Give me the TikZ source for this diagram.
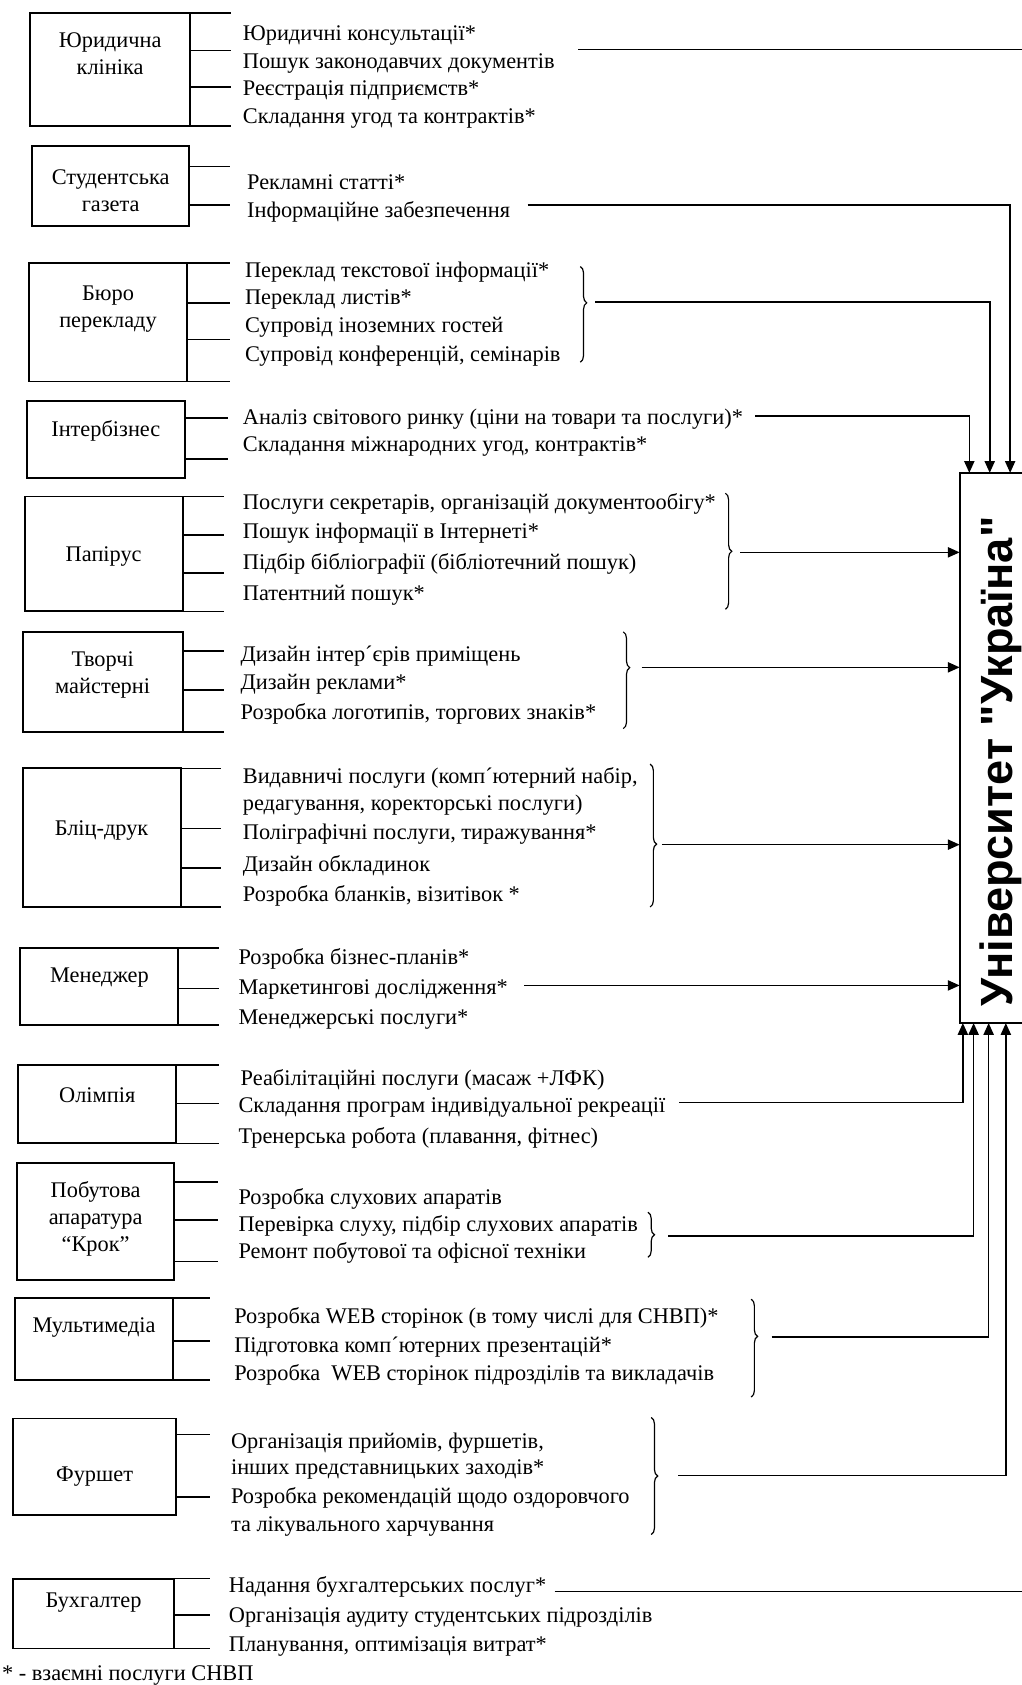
\documentclass[tikz,border=0pt]{standalone}
\usepackage{fontspec}
\setmainfont{Liberation Serif}
\newfontfamily\unifont{Liberation Sans}
\usetikzlibrary{arrows.meta,decorations.pathreplacing,calc}
\newcommand\fsz{\fontsize{20.8}{25}\selectfont}
\begin{document}
\begin{tikzpicture}[x=1pt,y=-1pt,
  every node/.style={inner sep=0pt, outer sep=0pt},
  ubox/.style={draw, line width=1.8pt, anchor=north west},
  utext/.style={align=center, font=\fsz, yshift=-2.5pt},
  item/.style={anchor=west, font=\fsz, yshift=-2.5pt},
  stub/.style={line width=1.5pt},
  conn/.style={line width=1.5pt},
  arr/.style={line width=1.5pt, -{Triangle[length=11pt,width=9.5pt]}},
  brc/.style={line width=1.1pt, decorate, decoration={brace, amplitude=6pt, aspect=#1}},
  brc/.default=0.5]
\useasboundingbox (0,0) rectangle (951,1568);
\clip (0,0) rectangle (951,1568);

% University
\node[ubox, minimum width=72, minimum height=512] (univ) at (893,440) {};
\node[rotate=90, font=\unifont\bfseries\fontsize{42}{46}\selectfont] (ut) at (931,708.5) {Університет "Україна"};

% G1
\node[ubox, minimum width=149, minimum height=105] (b1) at (28,12) {};
\node[utext] (l1) at (102.5,47.5) {Юридична\\клініка};
\draw[stub] (b1.north east) -- (215,12);
\draw[stub] (b1.east |- 0,47) -- (215,47);
\draw[stub] (b1.east |- 0,81) -- (215,81);
\draw[stub] (b1.south east) -- (215,117);
\node[item] (i1a) at (226,31) {Юридичні консультації*};
\node[item] (i1b) at (226,57) {Пошук законодавчих документів};
\node[item] (i1c) at (226,82) {Реєстрація підприємств*};
\node[item] (i1d) at (226,108) {Складання угод та контрактів*};
\coordinate (s1) at (538,46);
\coordinate (e1) at (951,46);
\draw[conn] (s1) -- (e1);

% G2
\node[ubox, minimum width=146, minimum height=74] (b2) at (30,136) {};
\node[utext] (l2) at (103,175) {Студентська\\газета};
\draw[stub] (b2.east |- 0,155) -- (214,155);
\draw[stub] (b2.east |- 0,191) -- (214,191);
\node[item] (i2a) at (230,167) {Рекламні статті*};
\node[item] (i2b) at (230,195) {Інформаційне забезпечення};
\coordinate (s2) at (491,191);
\draw[arr] (s2) -| (univ.north -| 940,0);

% G3
\node[ubox, minimum width=147, minimum height=110] (b3) at (27,245) {};
\node[utext] (l3) at (100.5,285.5) {Бюро\\перекладу};
\draw[stub] (b3.north east) -- (214,245);
\draw[stub] (b3.east |- 0,282) -- (214,282);
\draw[stub] (b3.east |- 0,316) -- (214,316);
\draw[stub] (b3.south east) -- (214,355);
\node[item] (i3a) at (228,251) {Переклад текстової інформації*};
\node[item] (i3b) at (228,276) {Переклад листів*};
\node[item] (i3c) at (228,302) {Супровід іноземних гостей};
\node[item] (i3d) at (228,329) {Супровід конференцій, семінарів};
\draw[brc=0.38] (540,248) -- (540,337);
\coordinate (s3) at (554,281);
\draw[arr] (s3) -| (univ.north -| 921,0);

% G4
\node[ubox, minimum width=147, minimum height=72] (b4) at (25,373) {};
\node[utext] (l4) at (98.5,398) {Інтербізнес};
\draw[stub] (b4.east |- 0,389) -- (212,389);
\draw[stub] (b4.east |- 0,427) -- (212,427);
\node[item] (i4a) at (226,388) {Аналіз світового ринку (ціни на товари та послуги)*};
\node[item] (i4b) at (226,413) {Складання міжнародних угод, контрактів*};
\coordinate (s4) at (703,387);
\draw[arr] (s4) -| (univ.north -| 902,0);

% G5
\node[ubox, minimum width=147, minimum height=107] (b5) at (23,462) {};
\node[utext] (l5) at (96.5,515) {Папірус};
\draw[stub] (b5.north east) -- (208,462);
\draw[stub] (b5.east |- 0,498) -- (208,498);
\draw[stub] (b5.east |- 0,533) -- (208,533);
\draw[stub] (b5.south east) -- (208,569);
\node[item] (i5a) at (226,466) {Послуги секретарів, організацій документообігу*};
\node[item] (i5b) at (226,494) {Пошук інформації в Інтернеті*};
\node[item] (i5c) at (226,522) {Підбір бібліографії (бібліотечний пошук)};
\node[item] (i5d) at (226,551) {Патентний пошук*};
\draw[brc=0.5] (675,459) -- (675,567);
\coordinate (s5) at (689,514);
\draw[arr] (s5) -- (s5 -| univ.west);

% G6
\node[ubox, minimum width=149, minimum height=93] (b6) at (21,588) {};
\node[utext] (l6) at (95.5,626) {Творчі\\майстерні};
\draw[stub] (b6.east |- 0,606) -- (208,606);
\draw[stub] (b6.east |- 0,642) -- (208,642);
\draw[stub] (b6.south east) -- (208,681);
\node[item] (i6a) at (224,608) {Дизайн інтер´єрів приміщень};
\node[item] (i6b) at (224,634) {Дизайн реклами*};
\node[item] (i6c) at (224,662) {Розробка логотипів, торгових знаків*};
\draw[brc=0.37] (580,588) -- (580,678);
\coordinate (s6) at (597,621);
\draw[arr] (s6) -- (s6 -| univ.west);

% G7
\node[ubox, minimum width=147, minimum height=129] (b7) at (21,715) {};
\node[utext] (l7) at (94.5,770) {Бліц-друк};
\draw[stub] (b7.north east) -- (206,715);
\draw[stub] (b7.east |- 0,771) -- (206,771);
\draw[stub] (b7.east |- 0,808) -- (206,808);
\draw[stub] (b7.south east) -- (206,844);
\node[item] (i7a) at (226,721) {Видавничі послуги (комп´ютерний набір,};
\node[item] (i7b) at (226,747) {редагування, коректорські послуги)};
\node[item] (i7c) at (226,774) {Поліграфічні послуги, тиражування*};
\node[item] (i7d) at (226,803) {Дизайн обкладинок};
\node[item] (i7e) at (226,831) {Розробка бланків, візитівок *};
\draw[brc=0.56] (605,711) -- (605,844);
\coordinate (s7) at (616,786);
\draw[arr] (s7) -- (s7 -| univ.west);

% G8
\node[ubox, minimum width=147, minimum height=72] (b8) at (19,882) {};
\node[utext] (l8) at (92.5,907) {Менеджер};
\draw[stub] (b8.north east) -- (204,882);
\draw[stub] (b8.east |- 0,920) -- (204,920);
\draw[stub] (b8.south east) -- (204,954);
\node[item] (i8a) at (222,890) {Розробка бізнес-планів*};
\node[item] (i8b) at (222,918) {Маркетингові дослідження*};
\node[item] (i8c) at (222,946) {Менеджерські послуги*};
\coordinate (s8) at (488,917);
\draw[arr] (s8) -- (s8 -| univ.west);

% G9
\node[ubox, minimum width=147, minimum height=73] (b9) at (17,991) {};
\node[utext] (l9) at (90.5,1017) {Олімпія};
\draw[stub] (b9.north east) -- (204,991);
\draw[stub] (b9.east |- 0,1027) -- (204,1027);
\draw[stub] (b9.south east) -- (204,1064);
\node[item] (i9a) at (224,1002) {Реабілітаційні послуги (масаж +ЛФК)};
\node[item] (i9b) at (222,1028) {Складання програм індивідуальної рекреації};
\node[item] (i9c) at (222,1056) {Тренерська робота (плавання, фітнес)};
\coordinate (s9) at (632,1026);
\draw[arr] (s9) -| (univ.south -| 896,0);

% G10
\node[ubox, minimum width=146, minimum height=109] (b10) at (16,1082) {};
\node[utext] (l10) at (89,1132) {Побутова\\апаратура\\“Крок”};
\draw[stub] (b10.east |- 0,1100) -- (203,1100);
\draw[stub] (b10.east |- 0,1135) -- (203,1135);
\draw[stub] (b10.east |- 0,1174) -- (203,1174);
\node[item] (i10a) at (222,1113) {Розробка слухових апаратів};
\node[item] (i10b) at (222,1138) {Перевірка слуху, підбір слухових апаратів};
\node[item] (i10c) at (222,1163) {Ремонт побутової та офісної техніки};
\draw[brc=0.5] (603,1128) -- (603,1170);
\coordinate (s10) at (622,1150);
\draw[arr] (s10) -| (univ.south -| 906,0);

% G11
\node[ubox, minimum width=147, minimum height=76] (b11) at (14,1208) {};
\node[utext] (l11) at (87.5,1233) {Мультимедіа};
\draw[stub] (b11.north east) -- (195,1208);
\draw[stub] (b11.east |- 0,1248) -- (195,1248);
\draw[stub] (b11.south east) -- (195,1284);
\node[item] (i11a) at (218,1224) {Розробка WEB сторінок (в тому числі для СНВП)*};
\node[item] (i11b) at (218,1251) {Підготовка комп´ютерних презентацій*};
\node[item] (i11c) at (218,1277) {Розробка \ WEB сторінок підрозділів та викладачів};
\draw[brc=0.38] (699,1209) -- (699,1300);
\coordinate (s11) at (718,1244);
\draw[arr] (s11) -| (univ.south -| 920,0);

% G12
\node[ubox, minimum width=152, minimum height=90] (b12) at (12,1320) {};
\node[utext] (l12) at (88,1372) {Фуршет};
\draw[stub] (b12.east |- 0,1335) -- (195,1335);
\draw[stub] (b12.east |- 0,1393) -- (195,1393);
\node[item] (i12a) at (215,1340) {Організація прийомів, фуршетів,};
\node[item] (i12b) at (215,1365) {інших представницьких заходів*};
\node[item] (i12c) at (215,1391) {Розробка рекомендацій щодо оздоровчого};
\node[item] (i12d) at (215,1418) {та лікувального харчування};
\draw[brc=0.5] (606,1319) -- (606,1428);
\coordinate (s12) at (631,1373);
\draw[arr] (s12) -| (univ.south -| 936,0);

% G13
\node[ubox, minimum width=150, minimum height=65] (b13) at (12,1469) {};
\node[utext] (l13) at (87,1489) {Бухгалтер};
\draw[stub] (b13.north east) -- (195,1469);
\draw[stub] (b13.east |- 0,1503) -- (195,1503);
\draw[stub] (b13.south east) -- (195,1534);
\node[item] (i13a) at (213,1474) {Надання бухгалтерських послуг*};
\node[item] (i13b) at (213,1503) {Організація аудиту студентських підрозділів};
\node[item] (i13c) at (213,1530) {Планування, оптимізація витрат*};
\coordinate (s13) at (516,1481);
\coordinate (e13) at (951,1481);
\draw[conn] (s13) -- (e13);

% footnote
\node[item] (fn) at (2,1557) {* - взаємні послуги СНВП};
\end{tikzpicture}
\end{document}
